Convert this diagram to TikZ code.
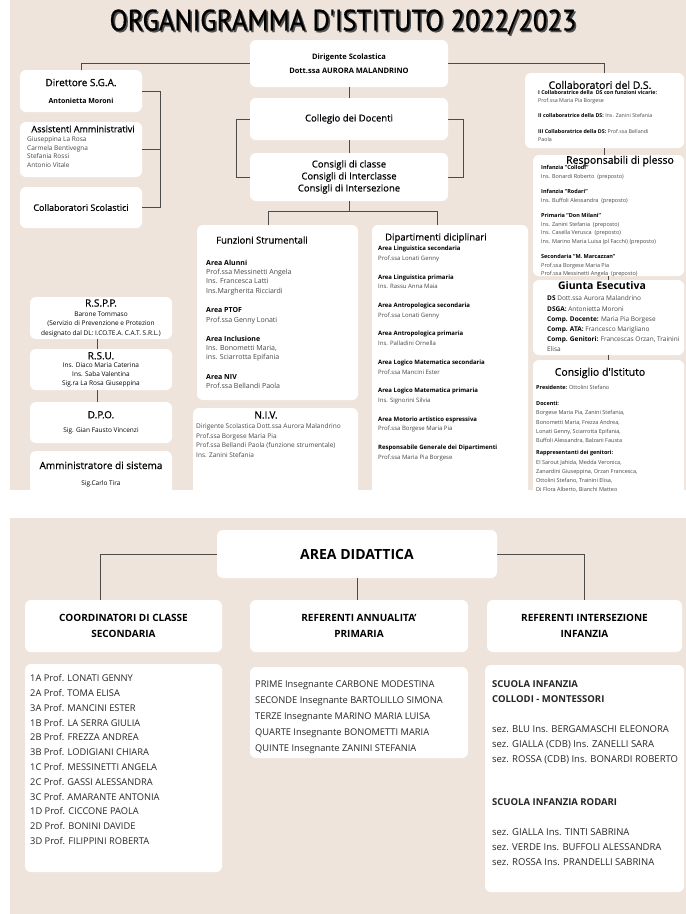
\documentclass[tikz,border=0pt]{standalone}
\usepackage{fontspec}
\setmainfont{Open Sans}
\newfontfamily\titlefont[FakeBold=0.6]{PT Sans}
\newfontfamily\medfont[FakeBold=0.5]{Open Sans}
\usetikzlibrary{positioning}
\definecolor{beige}{RGB}{238,228,219}
\definecolor{linegray}{RGB}{75,75,75}
\definecolor{body}{RGB}{70,70,70}
\definecolor{shadowgray}{RGB}{80,80,80}
\newcommand{\fs}[2]{\fontsize{#1}{#2}\selectfont}
\newcommand{\titletext}{\resizebox{467pt}{21pt}{\titlefont ORGANIGRAMMA D'ISTITUTO 2022/2023}}
\tikzset{
  box/.style={fill=white, rounded corners=6pt, inner sep=0pt, align=center},
  link/.style={draw=linegray, line width=0.8pt},
  lst/.style={anchor=north west, inner sep=0pt, align=left, text=body},
  hd/.style={inner sep=0pt},
}

\begin{document}
\begin{tikzpicture}[x=1pt,y=-1pt]
\useasboundingbox (0,0) rectangle (686,914);

% backgrounds
\fill[beige] (10,0) rectangle (686,490);
\fill[beige] (10,518) rectangle (686,914);

% title
\node[text=shadowgray] at (344.6,23.6) {\titletext};
\node (title) at (343,22) {\titletext};

% centre column
\node[box, minimum width=198, minimum height=47, font=\bfseries\fs{7.5}{13.5}] (dir) at (349,63.5) {Dirigente Scolastica\\Dott.ssa AURORA MALANDRINO};
\node[box, minimum width=198, minimum height=42, font=\medfont\fs{9.5}{12}] (col) at (349,119) {Collegio dei Docenti};
\node[box, minimum width=198, minimum height=48, font=\medfont\fs{9.5}{12}] (cons) at (349,177) {Consigli di classe\\Consigli di Interclasse\\Consigli di Intersezione};

% left column
\node[box, minimum width=122, minimum height=42, font=\medfont\fs{10}{12}] (dsga) at (81,91) {Direttore S.G.A.\\[5pt]{\normalfont\bfseries\fs{7}{9}Antonietta Moroni}};
\node[box, minimum width=122, minimum height=55] (ass) at (81,149.5) {};
\node[hd, font=\medfont\fs{9}{11}] (asshd) at (83,129) {Assistenti Amministrativi};
\node[lst, font=\fs{6.5}{8.6}] (asstxt) at (27,136.5) {Giuseppina La Rosa\\Carmela Bentivegna\\Stefania Rossi\\Antonio Vitale};
\node[box, minimum width=122, minimum height=41, font=\medfont\fs{9}{11}] (colsc) at (81,207.5) {Collaboratori Scolastici};

\node[box, minimum width=142, minimum height=42, font=\fs{6.5}{9.5}] (rspp) at (101,318) {{\medfont\fs{10}{11}R.S.P.P.}\\Barone Tommaso\\(Servizio di Prevenzione e Protezion\\designato dal DL: I.CO.TE.A. C.A.T. S.R.L.)};
\node[box, minimum width=142, minimum height=41, font=\fs{6.5}{9}] (rsu) at (101,369.5) {{\medfont\fs{10}{11}R.S.U.}\\[-1pt]Ins. Diaco Maria Caterina\\Ins. Saba Valentina\\Sig.ra La Rosa Giuseppina};
\node[box, minimum width=142, minimum height=41, font=\fs{6.5}{9}] (dpo) at (101,422.5) {{\medfont\fs{10}{11}D.P.O.}\\[5pt]Sig. Gian Fausto Vincenzi};
\node[box, minimum width=142, minimum height=46, font=\fs{6.5}{9}] (amm) at (101,474) {{\medfont\fs{10}{11}Amministratore di sistema}\\[7pt]Sig.Carlo Tira};

% funzioni strumentali
\node[box, minimum width=161, minimum height=175] (fs) at (277.5,312.5) {};
\node[hd, anchor=west, font=\medfont\fs{9.5}{11}] (fshd) at (216,240) {Funzioni Strumentali};
\node[lst, font=\fs{7}{9.4}] (fstxt) at (206,259.5) {\textbf{\color{black}Area Alunni}\\Prof.ssa Messinetti Angela\\Ins. Francesca Latti\\Ins.Margherita Ricciardi\\[10pt]
\textbf{\color{black}Area PTOF}\\Prof.ssa Genny Lonati\\[9.6pt]
\textbf{\color{black}Area Inclusione}\\Ins. Bonometti Maria,\\ins. Sciarrotta Epifania\\[10pt]
\textbf{\color{black}Area NIV}\\Prof.ssa Bellandi Paola};

\node[box, minimum width=165, minimum height=92] (niv) at (275.5,454) {};
\node[hd, font=\medfont\fs{10}{11}] (nivhd) at (266,415) {N.I.V.};
\node[lst, font=\fs{6.5}{9.4}] (nivtxt) at (196,423.7) {Dirigente Scolastica Dott.ssa Aurora Malandrino\\Prof.ssa Borgese Maria Pia\\Prof.ssa Bellandi Paola (funzione strumentale)\\Ins. Zanini Stefania};

% dipartimenti
\node[box, minimum width=156, minimum height=275] (dip) at (450,362.5) {};
\node[hd, anchor=west, font=\medfont\fs{9.5}{11}] (diphd) at (385,238) {Dipartimenti diciplinari};
\node[lst, font=\fs{6}{9.8}] (diptxt) at (378,246) {\textbf{\color{black}Area Linguistica secondaria}\\Prof.ssa Lonati Genny\\[8.8pt]
\textbf{\color{black}Area Linguistica primaria}\\Ins. Rassu Anna Maia\\[8.8pt]
\textbf{\color{black}Area Antropologica secondaria}\\Prof.ssa Lonati Genny\\[8.8pt]
\textbf{\color{black}Area Antropologica primaria}\\Ins. Palladini Ornella\\[8.8pt]
\textbf{\color{black}Area Logico Matematica secondaria}\\Prof.ssa Mancini Ester\\[8.8pt]
\textbf{\color{black}Area Logico Matematica primaria}\\Ins. Signorini Silvia\\[8.8pt]
\textbf{\color{black}Area Motorio artistico espressiva}\\Prof.ssa Borgese Maria Pia\\[8.8pt]
\textbf{\color{black}Responsabile Generale dei Dipartimenti}\\Prof.ssa Maria Pia Borgese};

% right column
\node[box, minimum width=159, minimum height=75] (collds) at (604.5,110.5) {};
\node[hd, font=\medfont\fs{10.5}{12}] (colldshd) at (600,85) {Collaboratori del D.S.};
\node[lst, font=\fs{5.3}{8}] (colldstxt) at (538,90.3) {\textbf{\color{black}I Collaboratrice della\ \ DS con funzioni vicarie:}\\Prof.ssa Maria Pia Borgese\\[7pt]
\textbf{\color{black}II collaboratrice della DS:} Ins. Zanini Stefania\\[8pt]
\textbf{\color{black}III Collaboratrice della DS:} Prof.ssa Bellandi\\Paola};

\node[box, minimum width=151, minimum height=121] (resp) at (608.5,215.5) {};
\node[hd, font=\medfont\fs{10.5}{12}] (resphd) at (620,161) {Responsabili di plesso};
\node[lst, font=\fs{5.5}{8.7}] (resptxt) at (541,165.5) {\textbf{\color{black}Infanzia "Collodi"}\\Ins. Bonardi Roberto\ \ (preposto)\\[6.3pt]
\textbf{\color{black}Infanzia "Rodari"}\\Ins. Buffoli Alessandra\ \ (preposto)\\[6.3pt]
\textbf{\color{black}Primaria "Don Milani"}\\Ins. Zanini Stefania\ \ (preposto)\\Ins. Casella Verusca\ \ (preposto)\\Ins. Marino Maria Luisa (pl Facchi) (preposto)\\[6.3pt]
\textbf{\color{black}Secondaria "M. Marcazzan"}\\Prof.ssa Borgese Maria Pia\\Prof.ssa Messinetti Angela\ \ (preposto)};

\node[box, minimum width=151, minimum height=75] (giunta) at (608.5,317.5) {};
\node[hd, font=\bfseries\fs{10.5}{12}] (giuntahd) at (602,286) {Giunta Esecutiva};
\node[lst, font=\fs{6.5}{10.2}] (giuntatxt) at (547,295.7) {\textbf{\color{black}DS} Dott.ssa Aurora Malandrino\\\textbf{\color{black}DSGA:} Antonietta Moroni\\\textbf{\color{black}Comp. Docente:} Maria Pia Borgese\\\textbf{\color{black}Comp. ATA:} Francesco Marigliano\\\textbf{\color{black}Comp. Genitori:} Francescas Orzan, Trainini\\Elisa};

\node[box, minimum width=151, minimum height=140] (cdi) at (608.5,430) {};
\node[hd, font=\medfont\fs{10.5}{12}] (cdihd) at (600,373) {Consiglio d'Istituto};
\node[lst, font=\fs{5.5}{9.3}] (cditxt) at (536,385.2) {\textbf{\color{black}Presidente:} Ottolini Stefano\\[6.5pt]
\textbf{\color{black}Docenti:}\\Borgese Maria Pia, Zanini Stefania,\\Bonometti Maria, Frezza Andrea,\\Lonati Genny, Sciarrotta Epifania,\\Buffoli Alessandra, Balzani Fausta\\[2.8pt]
\textbf{\color{black}Rappresentanti dei genitori:}\\El Sarout Jahida, Medda Veronica,\\Zanardini Giuseppina, Orzan Francesca,\\Ottolini Stefano, Trainini Elisa,\\Di Flora Alberto, Bianchi Matteo};

% connectors, top section
\begin{scope}[link]
\draw (dir) -- (col);
\draw (col) -- (cons);
\draw (col.east) -- ++(15,0) |- (cons.east);
\draw (col.west) -- ++(-13,0) |- (cons.west);
\draw (dir.west) -| (dsga.north);
\draw (dir.east) -| (collds.north);
\draw (cons.south) -- ++(0,10) -| ([xshift=-9.5pt]fs.north);
\draw (cons.south) ++(0,10) -| ([xshift=-13pt]dip.north);
\draw (dsga.east) -- ++(18,0) |- (colsc.east);
\draw (ass.east) -- ++(18,0);
\draw ([xshift=-4pt]rspp.south) -- ([xshift=-4pt]rsu.north);
\draw ([xshift=-4pt]rsu.south) -- ([xshift=-4pt]dpo.north);
\draw (collds.south) -- (collds.south |- resp.north);
\draw (resp.south) -- (giunta.north);
\draw (giunta.south) -- (cdi.north);
\end{scope}

% area didattica
\node[box, minimum width=280, minimum height=48, font=\bfseries\fs{14}{16}] (area) at (357,554) {AREA DIDATTICA};
\node[box, minimum width=197, minimum height=52, font=\bfseries\fs{10}{16}] (sec) at (123.5,626) {COORDINATORI DI CLASSE\\SECONDARIA};
\node[box, minimum width=218, minimum height=52, font=\bfseries\fs{10}{16}] (pri) at (359,626) {REFERENTI ANNUALITA'\\PRIMARIA};
\node[box, minimum width=195, minimum height=52, font=\bfseries\fs{10}{16}] (inf) at (584.5,626) {REFERENTI INTERSEZIONE\\INFANZIA};

\begin{scope}[link]
\draw (area.west) -| ([xshift=-23.5pt]sec.north);
\draw (area.south) -- (area.south |- pri.north);
\draw (area.east) -| (inf.north);
\end{scope}

\node[box, minimum width=197, minimum height=208] (seclist) at (123.5,768) {};
\node[lst, text=black!85, font=\fs{9.3}{14.8}] (sectxt) at (30,674.3) {1A Prof. LONATI GENNY\\2A Prof. TOMA ELISA\\3A Prof. MANCINI ESTER\\1B Prof. LA SERRA GIULIA\\2B Prof. FREZZA ANDREA\\3B Prof. LODIGIANI CHIARA\\1C Prof. MESSINETTI ANGELA\\2C Prof. GASSI ALESSANDRA\\3C Prof. AMARANTE ANTONIA\\1D Prof. CICCONE PAOLA\\2D Prof. BONINI DAVIDE\\3D Prof. FILIPPINI ROBERTA};

\node[box, minimum width=218, minimum height=91] (prilist) at (359,712.5) {};
\node[lst, text=black!85, font=\fs{9.3}{16}] (pritxt) at (255,680.3) {PRIME Insegnante CARBONE MODESTINA\\SECONDE Insegnante BARTOLILLO SIMONA\\TERZE Insegnante MARINO MARIA LUISA\\QUARTE Insegnante BONOMETTI MARIA\\QUINTE Insegnante ZANINI STEFANIA};

\node[box, minimum width=199, minimum height=227] (inflist) at (584.5,778.5) {};
\node[lst, text=black!85, font=\fs{9.5}{15}] (inftxt) at (492,680.2) {\textbf{SCUOLA INFANZIA}\\\textbf{COLLODI - MONTESSORI}\\[15pt]
sez. BLU Ins. BERGAMASCHI ELEONORA\\sez. GIALLA (CDB) Ins. ZANELLI SARA\\sez. ROSSA (CDB) Ins. BONARDI ROBERTO\\[28pt]
\textbf{SCUOLA INFANZIA RODARI}\\[15pt]
sez. GIALLA Ins. TINTI SABRINA\\sez. VERDE Ins. BUFFOLI ALESSANDRA\\sez. ROSSA Ins. PRANDELLI SABRINA};

\end{tikzpicture}
\end{document}
